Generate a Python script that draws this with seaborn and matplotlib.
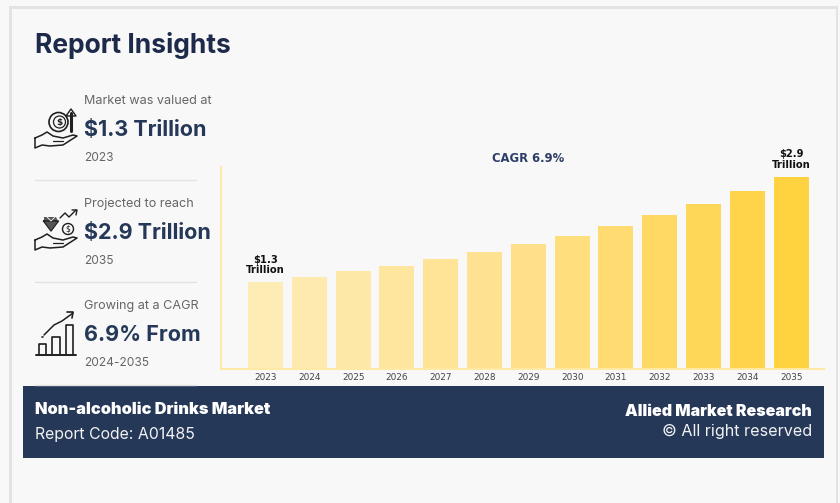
import matplotlib
matplotlib.use("Agg")
import matplotlib.pyplot as plt
from matplotlib.patches import Rectangle, Circle
import seaborn as sns

# chart data
years = ["2023", "2024", "2025", "2026", "2027", "2028", "2029",
         "2030", "2031", "2032", "2033", "2034", "2035"]
market_size = [1.31, 1.39, 1.48, 1.56, 1.66, 1.77, 1.89,
               2.01, 2.16, 2.32, 2.49, 2.69, 2.90]
first_label = "$1.3\nTrillion"
last_label = "$2.9\nTrillion"
cagr_label = "CAGR 6.9%"

NAVY = "#253858"
TITLE = "#1E2A4A"
GREY = "#666666"
LINE = "#1F1F1F"
UI_FONT = ["Inter", "DejaVu Sans"]

W, H = 840, 503

sns.set_theme(style="white")
plt.rcParams["font.family"] = ["DejaVu Sans"]

fig = plt.figure(figsize=(W / 100, H / 100), dpi=100, facecolor="#F8F8F8")

# overlay in pixel coordinates for the card, side panel and footer
bg = fig.add_axes([0, 0, 1, 1])
bg.set_xlim(0, W)
bg.set_ylim(H, 0)
bg.axis("off")

bg.add_patch(Rectangle((9, 6), 829, 2.5, color="#E3E3E3", lw=0))
bg.add_patch(Rectangle((9, 6), 2.5, H, color="#E3E3E3", lw=0))
bg.add_patch(Rectangle((835.5, 6), 2.5, H, color="#E3E3E3", lw=0))
bg.add_patch(Rectangle((23, 386), 801, 72, color=NAVY, lw=0))

bg.text(35, 45.5, "Report Insights", fontsize=19, fontweight="bold",
        color=TITLE, family=UI_FONT, va="center")

# side panel rows
rows = [
    (101, "Market was valued at", "$1.3 Trillion", "2023"),
    (204, "Projected to reach", "$2.9 Trillion", "2035"),
    (306, "Growing at a CAGR", "6.9% From", "2024-2035"),
]
for y, top, big, bottom in rows:
    bg.text(84.5, y, top, fontsize=9.1, color=GREY, family=UI_FONT, va="center")
    bg.text(84.5, y + 29, big, fontsize=15.5, fontweight="bold", color=NAVY,
            family=UI_FONT, va="center")
    bg.text(84.5, y + 57, bottom, fontsize=8.6, color=GREY, family=UI_FONT, va="center")

for y in [180, 282, 385]:
    bg.plot([35, 196], [y, y], color="#E2E2E2", lw=1)


def hand(x, y):
    # open hand shared by the first two icons
    xs = [0, 7, 12, 18, 28, 38, 42, 28, 15, 7, 0, 0]
    ys = [0, -3, -6, -2, 0, -3, -2, 7, 8, 7, 10, 0]
    bg.plot([x + a for a in xs], [y + b for b in ys], color=LINE, lw=1.1)
    bg.plot([x + 18, x + 28], [y + 3, y + 3], color=LINE, lw=0.9)


# money icon
hand(35, 138)
bg.add_patch(Circle((58.5, 122), 9.5, fill=False, ec=LINE, lw=1.2))
bg.add_patch(Circle((59.5, 122), 6, fill=False, ec=LINE, lw=0.9))
bg.text(59.5, 122, "$", fontsize=6.5, ha="center", va="center", color=LINE, fontweight="bold")
bg.plot([71, 71], [131, 113], color=LINE, lw=2.2)
bg.plot([66, 71, 76, 66], [116, 109, 116, 116], color=LINE, lw=1)

# diamond icon
hand(35, 240)
bg.fill([44, 56, 58, 51, 44], [217, 217, 221, 230, 221], color=LINE, alpha=0.75, lw=0)
bg.plot([43.5, 58.5, 51, 43.5], [221, 221, 231, 221], color=LINE, lw=1)
bg.plot([47, 51, 55], [217, 221, 217], color="white", lw=0.6)
bg.add_patch(Circle((68, 229), 5.5, fill=False, ec=LINE, lw=1))
bg.text(68, 229, "$", fontsize=5.5, ha="center", va="center", color=LINE)
bg.plot([60, 65, 69, 76], [218, 213, 217, 210], color=LINE, lw=1)
bg.plot([72, 77, 76], [210, 210, 215], color=LINE, lw=1)

# growth icon
bg.plot([36, 76], [354.5, 354.5], color=LINE, lw=1.4)
for x0, x1, top in [(38.5, 46, 344), (52, 59.5, 337), (65.5, 73, 325)]:
    bg.plot([x0, x0, x1, x1], [354, top, top, 354], color=LINE, lw=1.2)
bg.plot([44, 54, 62, 73], [335, 325, 321, 313], color=LINE, lw=1.1)
bg.plot([42, 42.5], [337, 337], color=LINE, lw=1.2)
bg.plot([67, 73, 72], [312, 312, 318], color=LINE, lw=1.2)

# footer text
bg.text(35, 410, "Non-alcoholic Drinks Market", fontsize=11.75, fontweight="black",
        color="white", family=UI_FONT, va="center")
bg.text(35, 434, "Report Code: A01485", fontsize=11.4, color="#F2F2F2",
        family=UI_FONT, va="center")
bg.text(812, 411, "Allied Market Research", fontsize=11.5, fontweight="black",
        color="white", family=UI_FONT, va="center", ha="right")
bg.text(812, 431, "© All right reserved", fontsize=11.6, color="#F2F2F2",
        family=UI_FONT, va="center", ha="right")

# bar chart
ax = fig.add_axes([221 / W, 1 - 369 / H, (824 - 221) / W, (369 - 167) / H])
ax.patch.set_alpha(0)
palette = sns.blend_palette(["#FEECB5", "#FFE08A", "#FFD23F"], n_colors=len(years))
sns.barplot(x=years, y=market_size, hue=years, palette=palette, legend=False,
            width=0.8, saturation=1, linewidth=0, ax=ax)

ax.set_xlim(-1.016, 12.75)
ax.set_ylim(0, 3.05)
ax.set_yticks([])
ax.tick_params(axis="x", length=0, labelsize=6.4, labelcolor="#444444", pad=3)
ax.set_xlabel("")
ax.set_ylabel("")
sns.despine(ax=ax)
for side in ["left", "bottom"]:
    ax.spines[side].set_color("#FFE9A6")
    ax.spines[side].set_linewidth(1.5)

ax.annotate(first_label, (0, market_size[0]), xytext=(0, 5.2), textcoords="offset points",
            ha="center", va="bottom", fontsize=7.2, fontweight="bold",
            color="#111111", linespacing=1.05)
ax.annotate(last_label, (12, market_size[-1]), xytext=(0, 5.2), textcoords="offset points",
            ha="center", va="bottom", fontsize=7.2, fontweight="bold",
            color="#111111", linespacing=1.05, annotation_clip=False)

bg.text(528, 159, cagr_label, fontsize=8.4, fontweight="bold", color="#2C3E66",
        ha="center", va="center")

fig.savefig("out.png", dpi=100, facecolor=fig.get_facecolor())
